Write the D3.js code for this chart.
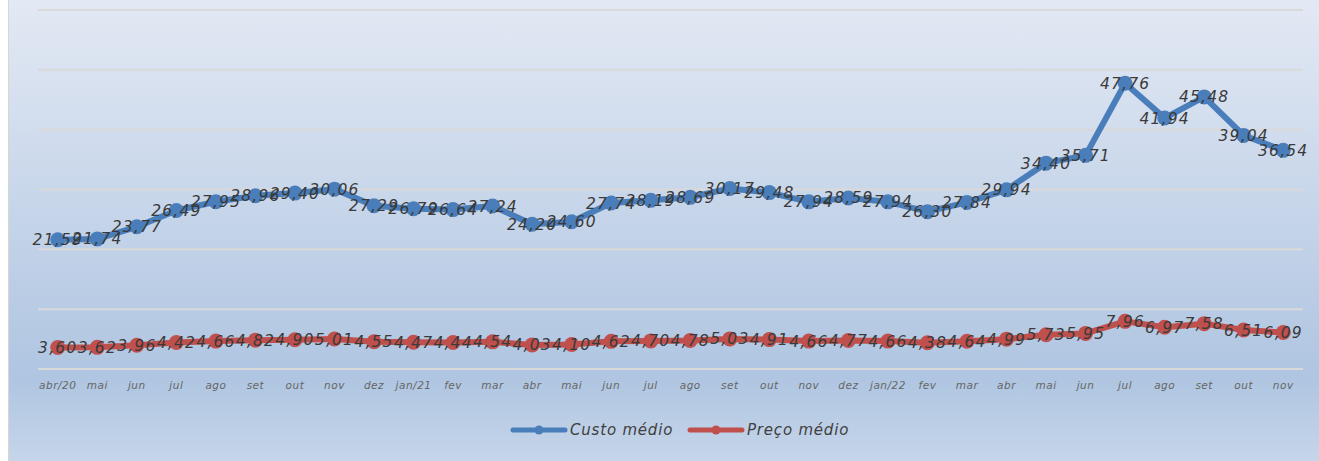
<!DOCTYPE html>
<html lang="pt">
<head>
  <meta charset="UTF-8">
  <title>Custo médio x Preço médio</title>
  <script src="https://d3js.org/d3.v7.min.js"></script>
  <style>
    html, body { margin: 0; padding: 0; background: #fff; }
    svg { display: block; }
    text { font-family: "DejaVu Sans", sans-serif; font-style: italic; }
  </style>
</head>
<body>
  <svg width="1319" height="461"></svg>

  <script>
    const width = 1319;
    const height = 461;

    const months = ["abr/20", "mai", "jun", "jul", "ago", "set", "out", "nov", "dez",
      "jan/21", "fev", "mar", "abr", "mai", "jun", "jul", "ago", "set", "out", "nov", "dez",
      "jan/22", "fev", "mar", "abr", "mai", "jun", "jul", "ago", "set", "out", "nov"];

    const custoMedio = [21.59, 21.74, 23.77, 26.49, 27.95, 28.96, 29.40, 30.06, 27.29,
      26.79, 26.64, 27.24, 24.20, 24.60, 27.74, 28.19, 28.69, 30.17, 29.48, 27.94, 28.59,
      27.94, 26.30, 27.84, 29.94, 34.40, 35.71, 47.76, 41.94, 45.48, 39.04, 36.54];

    const precoMedio = [3.60, 3.62, 3.96, 4.42, 4.66, 4.82, 4.90, 5.01, 4.55,
      4.47, 4.44, 4.54, 4.03, 4.10, 4.62, 4.70, 4.78, 5.03, 4.91, 4.66, 4.77,
      4.66, 4.38, 4.64, 4.99, 5.73, 5.95, 7.96, 6.97, 7.58, 6.51, 6.09];

    const gridValues = [0, 10, 20, 30, 40, 50, 60];

    const series = [
      { name: "Custo médio", values: custoMedio, color: "#4a7ebb" },
      { name: "Preço médio", values: precoMedio, color: "#c0504d" }
    ];

    const svg = d3.select("svg");
    const ix = months.map((m, i) => i);

    // background
    const defs = svg.append("defs");
    const grad = defs.append("linearGradient")
      .attr("id", "bg").attr("x1", 0).attr("y1", 0).attr("x2", 0).attr("y2", 1);
    grad.append("stop").attr("offset", "0%").attr("stop-color", "#e3e9f4");
    grad.append("stop").attr("offset", "82%").attr("stop-color", "#afc5e1");
    grad.append("stop").attr("offset", "100%").attr("stop-color", "#c6d6ea");

    svg.append("rect")
      .attr("x", 8.5).attr("y", -1)
      .attr("width", width).attr("height", height + 2)
      .attr("fill", "url(#bg)")
      .attr("stroke", "#d6d6d6");

    const x = d3.scaleBand()
      .domain(ix)
      .range([38, 1303]);

    const y = d3.scaleLinear()
      .domain([0, 60])
      .range([369, 10]);

    const cx = i => x(i) + x.bandwidth() / 2;

    // gridlines
    svg.append("g")
      .selectAll("line")
      .data(gridValues)
      .join("line")
      .attr("x1", 38).attr("x2", 1303)
      .attr("y1", d => y(d)).attr("y2", d => y(d))
      .attr("stroke", "#d9d9d9")
      .attr("stroke-width", 2);

    // x axis labels
    svg.append("g")
      .selectAll("text")
      .data(ix)
      .join("text")
      .attr("x", cx)
      .attr("y", 389)
      .attr("text-anchor", "middle")
      .attr("font-size", 10.5)
      .attr("letter-spacing", 0.5)
      .attr("fill", "#666")
      .text(i => months[i]);

    const line = d3.line()
      .x((d, i) => cx(i))
      .y(d => y(d));

    series.forEach(s => {
      svg.append("path")
        .datum(s.values)
        .attr("d", line)
        .attr("fill", "none")
        .attr("stroke", s.color)
        .attr("stroke-width", 6)
        .attr("stroke-linejoin", "round");

      svg.append("g")
        .selectAll("circle")
        .data(s.values)
        .join("circle")
        .attr("cx", (d, i) => cx(i))
        .attr("cy", d => y(d))
        .attr("r", 7.5)
        .attr("fill", s.color);
    });

    series.forEach(s => {
      svg.append("g")
        .selectAll("text")
        .data(s.values)
        .join("text")
        .attr("x", (d, i) => cx(i))
        .attr("y", d => y(d) + 5.5)
        .attr("text-anchor", "middle")
        .attr("font-size", 15.5)
        .attr("letter-spacing", 1.2)
        .attr("fill", "#3a3a3a")
        .text(d => d.toFixed(2).replace(".", ","));
    });

    // legend
    const legend = svg.append("g").attr("transform", "translate(511,430)");
    const legendX = [0, 177];
    series.forEach((s, k) => {
      const g = legend.append("g").attr("transform", `translate(${legendX[k]},0)`);
      g.append("line")
        .attr("x1", 2).attr("x2", 54)
        .attr("stroke", s.color)
        .attr("stroke-width", 5)
        .attr("stroke-linecap", "round");
      g.append("circle")
        .attr("cx", 28).attr("r", 4.5)
        .attr("fill", s.color);
      g.append("text")
        .attr("x", 59).attr("y", 5)
        .attr("font-size", 15)
        .attr("letter-spacing", 0.8)
        .attr("fill", "#404040")
        .text(s.name);
    });
  </script>
</body>
</html>
